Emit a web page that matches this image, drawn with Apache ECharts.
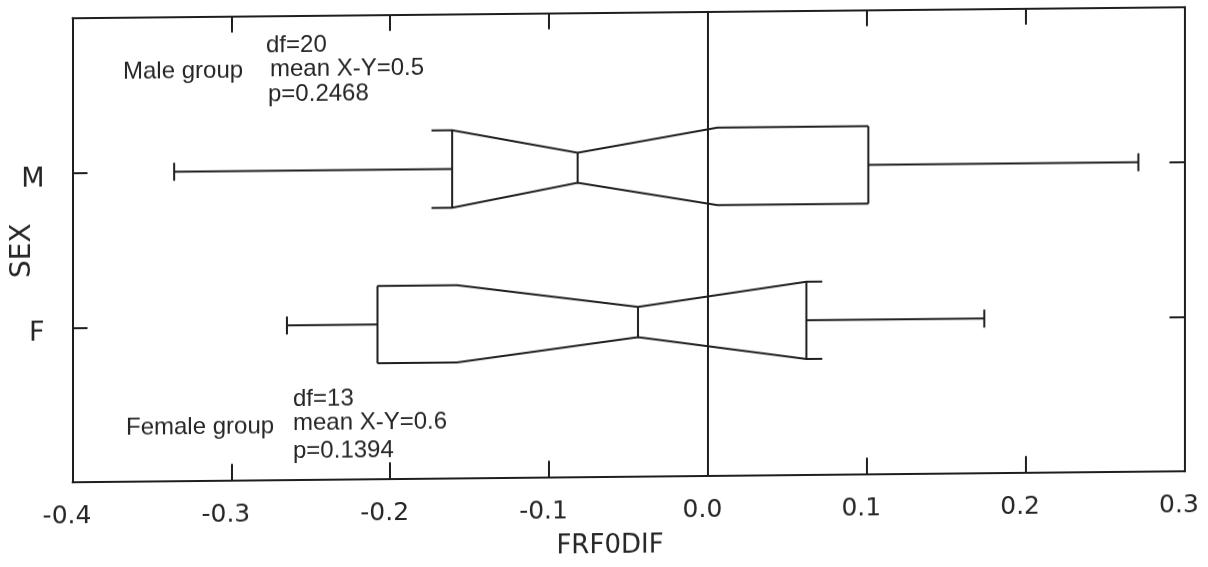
<!DOCTYPE html>
<html>
<head>
<meta charset="utf-8">
<title>FRF0DIF by SEX</title>
<script src="https://cdn.jsdelivr.net/npm/echarts@6/dist/echarts.min.js"></script>
<style>
  html, body { margin: 0; padding: 0; background: #fff; }
  #frf0dif-chart {
    width: 1208px;
    height: 567px;
    /* the scanned figure is slightly sheared */
    transform: skewY(-0.567deg);
    transform-origin: 604px 283.5px;
  }
</style>
</head>
<body>
<div id="frf0dif-chart"></div>
<script>
// y tick labels, bottom to top; each group sits on its own label's tick
const sexLabels = ['', 'F', 'M', ''];
const groups = ['M', 'F'];
const whiskerLow = [-0.336, -0.265];
const hingeLow = [-0.161, -0.208];
const notchLow = [-0.174, -0.158];
const medians = [-0.082, -0.044];
const notchHigh = [0.006, 0.072];
const hingeHigh = [0.101, 0.062];
const whiskerHigh = [0.271, 0.174];

// annotation text
const groupNames = ['Male group', 'Female group'];
const dfs = [20, 13];
const meanDiffs = [0.5, 0.6];
const pValues = [0.2468, 0.1394];

const ink = '#1e1e1e';
const textInk = '#262626';
const labelFont = '"DejaVu Sans", sans-serif';
const noteFont = '24px "Liberation Sans", Arial, sans-serif';

let boxData = groups.map((g, i) => [
  sexLabels.indexOf(g), whiskerLow[i], hingeLow[i], notchLow[i],
  medians[i], notchHigh[i], hingeHigh[i], whiskerHigh[i]
]);

// notched box: the notch slopes from the median out to the nearer of
// (hinge, notch bound), then runs flat to the farther one
function renderBox(params, api) {
  const y = api.value(0);
  const px = v => api.coord([v, y])[0];
  const cy = api.coord([0, y])[1];
  const unit = api.size([0, 1])[1];
  const box = unit * 0.25, notch = unit * 0.097, cap = unit * 0.058;
  const wLo = px(api.value(1)), q1 = px(api.value(2)), nLo = px(api.value(3));
  const med = px(api.value(4)), nHi = px(api.value(5)), q3 = px(api.value(6));
  const wHi = px(api.value(7));
  const edge = dir => [
    [Math.min(q1, nLo), cy + dir * box],
    [Math.max(q1, nLo), cy + dir * box],
    [med, cy + dir * notch],
    [Math.min(q3, nHi), cy + dir * box],
    [Math.max(q3, nHi), cy + dir * box]
  ];
  const style = { stroke: ink, lineWidth: 2, fill: null };
  const line = (x1, y1, x2, y2) => ({ type: 'line', shape: { x1, y1, x2, y2 }, style });
  return {
    type: 'group',
    children: [
      { type: 'polyline', shape: { points: edge(-1) }, style },
      { type: 'polyline', shape: { points: edge(1) }, style },
      line(q1, cy - box, q1, cy + box),
      line(q3, cy - box, q3, cy + box),
      line(med, cy - notch, med, cy + notch),
      line(wLo, cy, q1, cy),
      line(q3, cy, wHi, cy),
      line(wLo, cy - cap, wLo, cy + cap),
      line(wHi, cy - cap, wHi, cy + cap)
    ]
  };
}

function note(text, x, y) {
  return {
    type: 'text', x: x, y: y, silent: true,
    style: { text: text, font: noteFont, fill: textInk, verticalAlign: 'middle' }
  };
}

const axisLine = { show: true, onZero: false, lineStyle: { color: ink, width: 2 } };

let chart = echarts.init(document.getElementById('frf0dif-chart'));
let option = {
  animation: false,
  backgroundColor: '#fff',
  grid: { left: 72.5, right: 23.5, top: 12.7, bottom: 89.8, outerBoundsMode: 'none', containLabel: false },
  xAxis: [
    {
      type: 'value', position: 'bottom',
      min: -0.4, max: 0.3, interval: 0.1,
      name: 'FRF0DIF', nameLocation: 'middle', nameGap: 56,
      nameTextStyle: { fontFamily: labelFont, fontSize: 26, color: textInk, padding: [0, 37, 0, 0] },
      axisLine: axisLine,
      axisTick: { inside: true, length: 17, lineStyle: { color: ink, width: 2 } },
      axisLabel: {
        margin: 22, fontFamily: labelFont, fontSize: 25, color: textInk,
        padding: [0, 11, 0, 0],
        formatter: v => (Math.abs(v) < 1e-9 ? 0 : v).toFixed(1)
      },
      splitLine: { show: false }
    },
    {
      type: 'value', position: 'top',
      min: -0.4, max: 0.3, interval: 0.1,
      axisLine: axisLine,
      axisTick: { inside: true, length: 16, lineStyle: { color: ink, width: 2 } },
      axisLabel: { show: false },
      splitLine: { show: false }
    }
  ],
  yAxis: [
    {
      type: 'value', position: 'left',
      min: 0, max: 3, interval: 1,
      name: 'SEX', nameLocation: 'middle', nameGap: 36, nameRotate: 90,
      nameMoveOverlap: false,
      nameTextStyle: { fontFamily: labelFont, fontSize: 28, color: textInk },
      axisLine: axisLine,
      axisTick: { inside: true, length: 15, lineStyle: { color: ink, width: 2 } },
      axisLabel: {
        margin: 28, color: textInk,
        formatter: v => sexLabels[v] ? '{sex|' + sexLabels[v] + '}' : '',
        rich: {
          sex: { fontFamily: labelFont, fontSize: 27, color: textInk, padding: [12, 0, 0, 0] }
        }
      },
      splitLine: { show: false }
    },
    {
      type: 'value', position: 'right',
      min: 0, max: 3, interval: 1,
      axisLine: axisLine,
      axisTick: { inside: true, length: 15, lineStyle: { color: ink, width: 2 } },
      axisLabel: { show: false },
      splitLine: { show: false }
    }
  ],
  graphic: [
    note(groupNames[0], 123, 67),
    note('df=' + dfs[0], 266, 42),
    note('mean X-Y=' + meanDiffs[0], 270, 66),
    note('p=' + pValues[0], 268, 91),
    note(groupNames[1], 126, 423),
    note('df=' + dfs[1], 293, 396),
    note('mean X-Y=' + meanDiffs[1], 293, 420),
    note('p=' + pValues[1], 293, 448)
  ],
  series: [
    {
      type: 'custom',
      xAxisIndex: 0, yAxisIndex: 0,
      renderItem: renderBox,
      encode: { x: [1, 2, 3, 4, 5, 6, 7], y: 0 },
      data: boxData,
      markLine: {
        silent: true, symbol: 'none', label: { show: false },
        lineStyle: { color: ink, width: 2, type: 'solid' },
        data: [{ xAxis: 0 }]
      }
    }
  ]
};
chart.setOption(option);
</script>
</body>
</html>
